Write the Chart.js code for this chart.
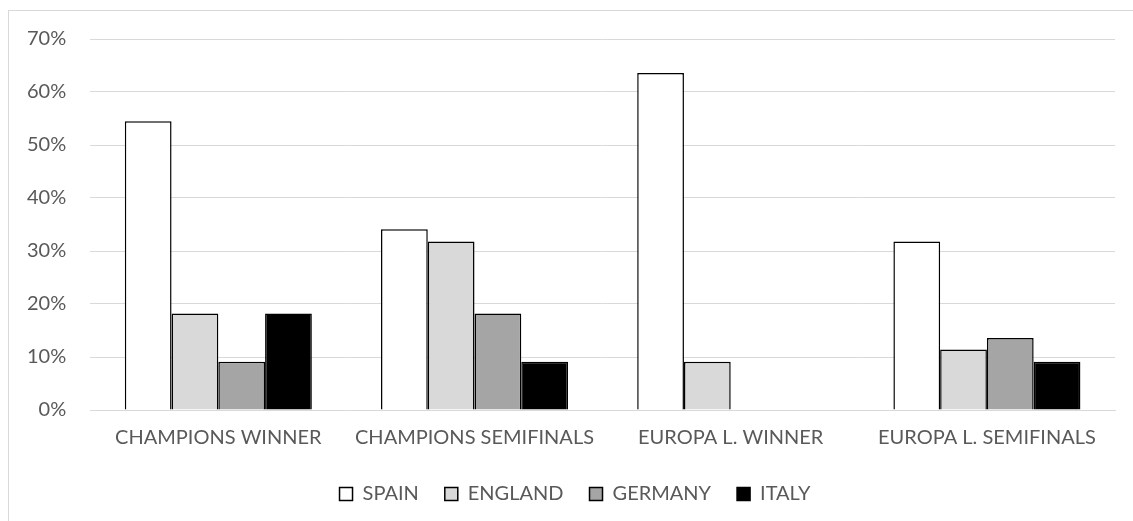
<!DOCTYPE html>
<html>
<head>
<meta charset="utf-8">
<script src="https://cdn.jsdelivr.net/npm/chart.js@4"></script>
<style>
  html, body { margin: 0; padding: 0; background: #fff; }
  #wrap { width: 1133px; height: 521px; position: relative; }
</style>
</head>
<body>
<div id="wrap"><canvas id="chart"></canvas></div>
<script>
const categories = ['CHAMPIONS WINNER', 'CHAMPIONS SEMIFINALS', 'EUROPA L. WINNER', 'EUROPA L. SEMIFINALS'];
const spain = [0.545, 0.341, 0.636, 0.318];
const england = [0.182, 0.318, 0.091, 0.114];
const germany = [0.091, 0.182, 0, 0.136];
const italy = [0.182, 0.091, 0, 0.091];
const yTicks = [0, 0.1, 0.2, 0.3, 0.4, 0.5, 0.6, 0.7];

const font = 'Lato, "Open Sans", sans-serif';
const textColor = '#595959';
const gridColor = '#d9d9d9';

// light frame of the chart area, cut off at right and bottom like the original
const frame = {
  id: 'frame',
  beforeDraw(chart) {
    const { ctx } = chart;
    ctx.save();
    ctx.strokeStyle = gridColor;
    ctx.lineWidth = 1;
    ctx.strokeRect(8.5, 10.5, 2000, 2000);
    ctx.restore();
  },
};

// legend in the original sits a bit right of the canvas centre
const legendShift = {
  id: 'legendShift',
  afterLayout(chart) {
    chart.legend.left += 16;
    chart.legend.right += 16;
  },
};

const series = [
  { label: 'SPAIN', data: spain, color: '#ffffff' },
  { label: 'ENGLAND', data: england, color: '#d9d9d9' },
  { label: 'GERMANY', data: germany, color: '#a5a5a5' },
  { label: 'ITALY', data: italy, color: '#000000' },
];

const config = {
  type: 'bar',
  data: {
    labels: categories,
    datasets: series.map((s) => ({
      label: s.label,
      data: s.data,
      backgroundColor: s.color,
      borderColor: '#000000',
      borderWidth: 1.5,
      borderSkipped: 'bottom',
      barPercentage: 1,
      categoryPercentage: 0.73,
    })),
  },
  options: {
    responsive: true,
    maintainAspectRatio: false,
    animation: false,
    layout: {
      padding: { left: 3, right: 18, top: 39, bottom: 7 },
    },
    scales: {
      x: {
        grid: { display: false },
        border: { color: gridColor, width: 1 },
        ticks: {
          color: textColor,
          font: { family: font, size: 20 },
          padding: 8,
          maxRotation: 0,
        },
      },
      y: {
        min: 0,
        max: 0.7,
        afterBuildTicks: (axis) => {
          axis.ticks = yTicks.map((v) => ({ value: v }));
        },
        grid: { color: gridColor, lineWidth: 1, drawTicks: false },
        border: { display: false },
        ticks: {
          color: textColor,
          font: { family: font, size: 20 },
          padding: 24,
          callback: (v) => Math.round(v * 100) + '%',
        },
      },
    },
    plugins: {
      legend: {
        position: 'bottom',
        labels: {
          color: textColor,
          font: { family: font, size: 20 },
          boxWidth: 13,
          boxHeight: 13,
          padding: 26,
          generateLabels: (chart) =>
            chart.data.datasets.map((ds, i) => ({
              text: ds.label,
              fillStyle: ds.backgroundColor,
              strokeStyle: '#000000',
              lineWidth: 1.5,
              fontColor: textColor,
              datasetIndex: i,
            })),
        },
      },
      tooltip: { enabled: false },
    },
  },
  plugins: [frame, legendShift],
};

new Chart(document.getElementById('chart'), config);
</script>
</body>
</html>
